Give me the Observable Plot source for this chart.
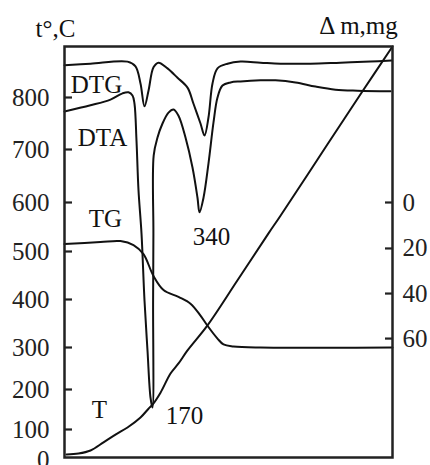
<!DOCTYPE html>
<html><head><meta charset="utf-8">
<script src="https://cdn.jsdelivr.net/npm/d3@7"></script>
<script src="https://cdn.jsdelivr.net/npm/@observablehq/plot@0.6"></script>
<style>body{margin:0;background:#fff}</style>
</head><body><div id="chart"></div>
<script>
// Tick values
const tempTicks = [0, 100, 200, 300, 400, 500, 600, 700, 800];
const massTicks = [0, 20, 40, 60];

// DTG curve (time units, arbitrary signal in the °C frame)
const dtgTime = [0, 26, 63, 71, 76, 80, 84, 89, 94, 103, 113, 123, 129, 136, 140, 144, 148, 153, 163, 176, 196, 216, 246, 276, 306, 327];
const dtgValue = [862, 865, 869, 860, 827, 783, 813, 858, 867, 856, 838, 819, 788, 750, 727, 762, 827, 856, 865, 869, 867, 865, 865, 867, 869, 871];

// DTA curve
const dtaTime = [0, 26, 46, 58, 64, 68, 70, 72, 74, 77, 80, 83, 86, 88, 88.6, 88.9, 89.2, 93, 98, 104, 109, 114, 121, 128, 133, 135, 139, 144, 149, 153, 158, 166, 176, 196, 211, 231, 251, 271, 293, 326];
const dtaValue = [773, 785, 796, 808, 810, 804, 788, 717, 623, 537, 398, 293, 180, 155, 398, 537, 689, 723, 750, 771, 777, 765, 723, 666, 609, 580, 609, 674, 752, 800, 823, 829, 831, 833, 833, 829, 821, 815, 813, 812];

// TG curve (mass loss, mg)
const tgTime = [0, 36, 56, 69, 79, 89, 99, 114, 126, 136, 143, 153, 159, 169, 196, 328];
const tgMass = [18.1, 17.2, 16.8, 18.5, 22.5, 32.2, 38.4, 41.5, 44.5, 49.8, 54.3, 60.0, 62.6, 63.5, 64.0, 64.0];

// T curve (temperature, °C)
const tTime = [2, 14, 26, 39, 51, 63, 76, 84, 88, 96, 106, 114, 123, 143, 173, 204, 216, 263, 298, 328];
const tValue = [17, 20, 30, 57, 83, 105, 130, 152, 162, 192, 238, 262, 293, 346, 440, 537, 573, 710, 812, 898];

// Annotations
const labelText = ["DTG", "DTA", "TG", "T", "170", "340"];
const labelTime = [32, 38, 41, 35, 120, 147];
const labelValue = [825, 723, 566, 150, 135, 529];

// The printed temperature axis is not evenly spaced: piecewise-linear scale transform
const tempBreaks = [0, 100, 200, 300, 400, 500, 600, 700, 800, 900];
const tempGrid = [0, 30, 70, 112, 160, 208, 257, 310, 362, 414];
const tempToGrid = d3.scaleLinear().domain(tempBreaks).range(tempGrid);

// mass (mg) -> position on the shared temperature axis
const mgToT = mg => 600 - 4.69 * mg;

const pts = (xs, ys) => xs.map((x, i) => ({x, y: ys[i]}));
const dtg = pts(dtgTime, dtgValue);
const dta = pts(dtaTime, dtaValue);
const tg = pts(tgTime, tgMass.map(mgToT));
const tc = pts(tTime, tValue);
const labels = labelText.map((text, i) => ({text, x: labelTime[i], y: labelValue[i]}));
const massPos = massTicks.map(mgToT);
const massLabel = new Map(massPos.map((p, i) => [p, String(massTicks[i])]));
const tempTickMarks = tempTicks.slice(1);

const lineStyle = {x: "x", y: "y", stroke: "#111", strokeWidth: 2, curve: "catmull-rom"};

const chart = Plot.plot({
  width: 430, height: 465,
  marginLeft: 64, marginRight: 38, marginTop: 46, marginBottom: 8,
  style: {fontFamily: '"Liberation Serif", "Times New Roman", serif', fontSize: "25px", color: "#222", background: "white", overflow: "visible"},
  x: {domain: [0, 328], axis: null},
  y: {transform: tempToGrid, domain: [0, 414], range: [459, 45], axis: null},
  marks: [
    Plot.axisY(tempTicks, {anchor: "left", label: null, tickSize: 0, tickPadding: 15, tickFormat: d => String(d), fontSize: 25, fill: "#222"}),
    Plot.axisY(massPos, {anchor: "right", label: null, tickSize: 0, tickPadding: 10, tickFormat: d => massLabel.get(d), fontSize: 25, fill: "#222"}),
    Plot.line(dtg, lineStyle),
    Plot.line(dta, lineStyle),
    Plot.line(tg, lineStyle),
    Plot.line(tc, lineStyle),
    Plot.frame({stroke: "#222", strokeWidth: 2.5}),
    Plot.tickY(tempTickMarks, {y: d => d, insetRight: 320, stroke: "#222", strokeWidth: 2.2}),
    Plot.tickY(massPos, {y: d => d, insetLeft: 321, stroke: "#222", strokeWidth: 2.2}),
    Plot.text(labels, {x: "x", y: "y", text: "text", fontSize: 25, fill: "#111"}),
    Plot.text(["t°,C"], {frameAnchor: "top-left", text: d => d, textAnchor: "middle", lineAnchor: "middle", dx: -9, dy: -18, fontSize: 25, fill: "#111"}),
    Plot.text(["Δ m,mg"], {frameAnchor: "top-right", text: d => d, textAnchor: "middle", lineAnchor: "middle", dx: -34, dy: -21, fontSize: 25, fill: "#111"})
  ]
});
document.getElementById("chart").append(chart);
</script>
</body></html>
